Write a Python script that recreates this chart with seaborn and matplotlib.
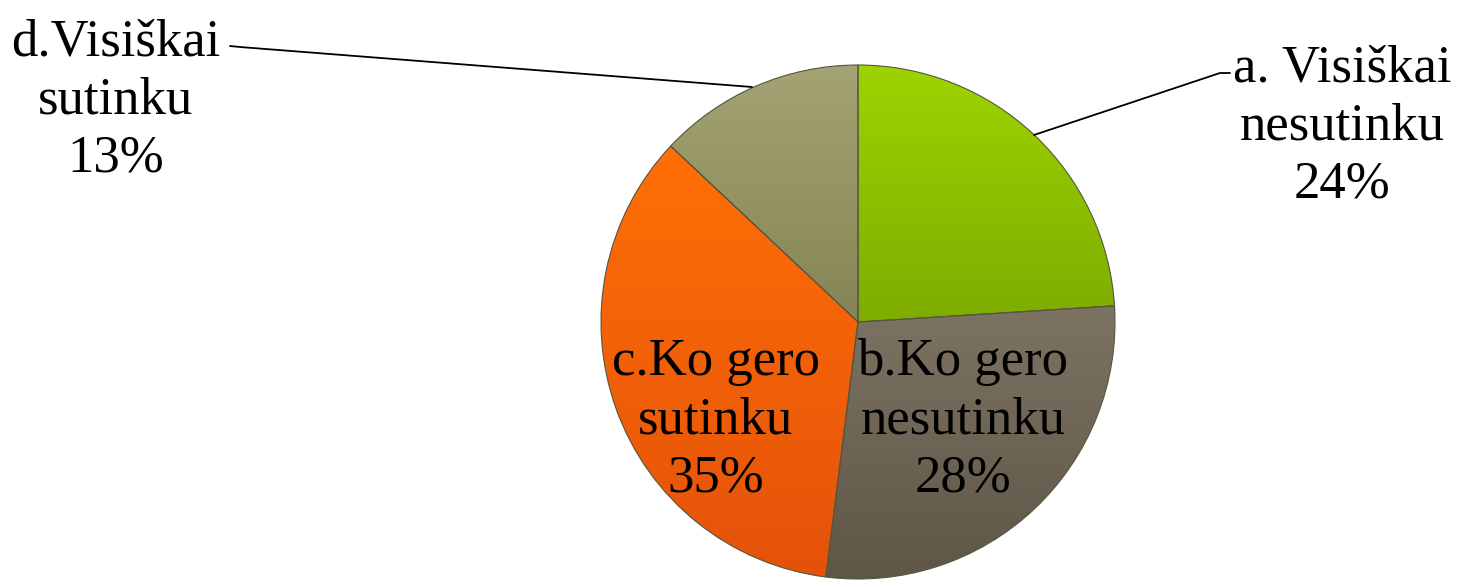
import numpy as np
import matplotlib.pyplot as plt
import seaborn as sns
from matplotlib.colors import LinearSegmentedColormap

# data
categories = ["a. Visiškai\nnesutinku", "b.Ko gero\nnesutinku", "c.Ko gero\nsutinku", "d.Visiškai\nsutinku"]
shares = [24, 28, 35, 13]
top_colors = ["#9dd300", "#7d7363", "#ff6f06", "#a3a373"]
bottom_colors = ["#7eac00", "#5e5647", "#e4520a", "#848455"]

sns.set_theme(style="white")
plt.rcParams["font.family"] = ["Liberation Serif", "DejaVu Serif"]

W, H = 1458, 580
fig = plt.figure(figsize=(W / 100, H / 100), dpi=100)
ax = fig.add_axes([0, 0, 1, 1])

# pie geometry (pixel-like data units, y up)
cx, cy, r = 858, H - 322, 257
wedges, _ = ax.pie(shares, center=(cx, cy), radius=r, startangle=90,
                   counterclock=False, colors=top_colors,
                   wedgeprops=dict(edgecolor="#55553f", linewidth=0.8))

# vertical gradient inside each wedge
grad = np.linspace(0, 1, 256).reshape(-1, 1)
for w, c_top, c_bot in zip(wedges, top_colors, bottom_colors):
    bb = w.get_path().get_extents()
    cmap = LinearSegmentedColormap.from_list("g", [c_bot, c_top])
    im = ax.imshow(grad, cmap=cmap, origin="lower", aspect="auto",
                   extent=(bb.x0, bb.x1, bb.y0, bb.y1), zorder=2)
    im.set_clip_path(w)
    w.set_facecolor("none")
    w.set_zorder(3)

fs = 38
# labels: x centre, last-line baseline (from top)
label_pos = [(1342, 198), (963, 492), (716, 492), (116, 172)]
for lab, val, (x, y) in zip(categories, shares, label_pos):
    ax.text(x, H - y, f"{lab}\n{val}%", ha="center", va="baseline",
            fontsize=fs, linespacing=1.28, color="black", zorder=5)

# leader lines for outside labels
ax.plot([1230, 1220, 1034], [H - 73, H - 73, H - 135], color="black", lw=1.3, zorder=4)
ax.plot([230, 240, 752], [H - 46, H - 47, H - 87], color="black", lw=1.3, zorder=4)

ax.set_xlim(0, W)
ax.set_ylim(0, H)
ax.set_aspect("equal")
ax.axis("off")

fig.savefig("out.png", dpi=100)
